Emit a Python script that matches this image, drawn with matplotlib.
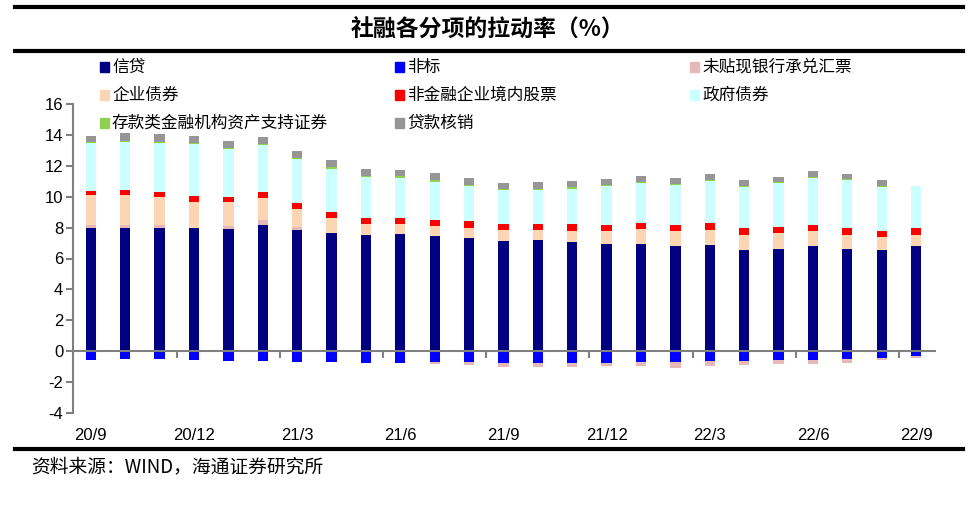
import numpy as np
import matplotlib
matplotlib.use('Agg')
import matplotlib.pyplot as plt
from matplotlib.lines import Line2D
from matplotlib.patches import Rectangle

plt.rcParams['font.family'] = ['Liberation Sans', 'Noto Sans CJK SC', 'DejaVu Sans']
plt.rcParams['axes.unicode_minus'] = False
cjk = ['Noto Sans CJK SC', 'DejaVu Sans']

months = ['20/9', '20/10', '20/11', '20/12', '21/1', '21/2', '21/3', '21/4', '21/5',
          '21/6', '21/7', '21/8', '21/9', '21/10', '21/11', '21/12', '22/1', '22/2',
          '22/3', '22/4', '22/5', '22/6', '22/7', '22/8', '22/9']

credit = [7.99, 7.99, 8.00, 7.95, 7.90, 8.14, 7.84, 7.64, 7.49, 7.58, 7.45, 7.32, 7.14,
          7.19, 7.06, 6.97, 6.97, 6.80, 6.87, 6.52, 6.61, 6.80, 6.61, 6.56, 6.80]
nonstd = [-0.54, -0.50, -0.50, -0.60, -0.65, -0.65, -0.69, -0.73, -0.76, -0.74, -0.72, -0.72, -0.76,
          -0.76, -0.76, -0.76, -0.71, -0.73, -0.65, -0.63, -0.58, -0.56, -0.50, -0.45, -0.32]
bills = [0.17, 0.21, 0.18, 0.03, 0.22, 0.34, 0.21, 0.04, 0.02, -0.05, -0.14, -0.19, -0.24,
         -0.24, -0.24, -0.19, -0.22, -0.35, -0.28, -0.26, -0.28, -0.24, -0.26, -0.11, -0.11]
corp_bond = [1.92, 1.92, 1.81, 1.69, 1.51, 1.45, 1.13, 0.91, 0.72, 0.63, 0.67, 0.67, 0.68,
             0.65, 0.73, 0.80, 0.91, 0.97, 0.99, 1.01, 1.03, 0.95, 0.92, 0.80, 0.73]
equity = [0.30, 0.33, 0.31, 0.35, 0.36, 0.37, 0.38, 0.41, 0.38, 0.38, 0.36, 0.41, 0.39,
          0.39, 0.44, 0.43, 0.45, 0.41, 0.43, 0.44, 0.41, 0.41, 0.42, 0.41, 0.42]
gov_bond = [3.07, 3.11, 3.19, 3.36, 3.09, 3.04, 2.85, 2.81, 2.64, 2.64, 2.49, 2.27, 2.20,
            2.20, 2.28, 2.49, 2.55, 2.57, 2.70, 2.67, 2.81, 3.04, 3.10, 2.85, 2.76]
abs_ = [0.06, 0.06, 0.07, 0.09, 0.07, 0.07, 0.07, 0.09, 0.10, 0.08, 0.11, 0.11, 0.08,
        0.10, 0.09, 0.06, 0.09, 0.09, 0.09, 0.07, 0.06, 0.07, 0.07, 0.07, 0.00]
writeoff = [0.44, 0.48, 0.49, 0.43, 0.45, 0.47, 0.49, 0.47, 0.44, 0.44, 0.45, 0.43, 0.41,
            0.42, 0.43, 0.41, 0.36, 0.39, 0.36, 0.37, 0.37, 0.37, 0.34, 0.36, 0.00]

names = ['信贷', '非标', '未贴现银行承兑汇票', '企业债券', '非金融企业境内股票',
         '政府债券', '存款类金融机构资产支持证券', '贷款核销']
series = [credit, nonstd, bills, corp_bond, equity, gov_bond, abs_, writeoff]
colors = ['#000080', '#0000FF', '#E6B9B8', '#FCD5B5', '#FF0000', '#CCFFFF', '#92D050', '#969696']

fig = plt.figure(figsize=(9.76, 5.14), dpi=100)
ax = fig.add_axes([73 / 976, 1 - 413 / 514, (935 - 73) / 976, (413 - 104) / 514])

x = np.arange(len(months))
pos_base = np.zeros(len(months))
neg_base = np.zeros(len(months))
for vals, c in zip(series, colors):
    v = np.array(vals)
    bottom = np.where(v >= 0, pos_base, neg_base)
    ax.bar(x, v, 0.3, bottom=bottom, color=c, edgecolor='none', zorder=2)
    pos_base += np.where(v >= 0, v, 0)
    neg_base += np.where(v < 0, v, 0)

ax.set_xlim(-0.52, 24.55)
ax.set_ylim(-4, 16)
ax.set_yticks(range(-4, 17, 2))
ax.tick_params(axis='y', labelsize=12, length=5, width=1.5, color='#808080', pad=2)

for s in ['top', 'right']:
    ax.spines[s].set_visible(False)
ax.spines['left'].set_color('#808080')
ax.spines['left'].set_linewidth(1.5)
ax.spines['bottom'].set_position(('data', 0))
ax.spines['bottom'].set_color('#808080')
ax.spines['bottom'].set_linewidth(1.5)

ax.set_xticks(x[::3])
ax.set_xticklabels(months[::3])
ax.set_xticks(np.arange(2.5, 24, 3), minor=True)
ax.tick_params(axis='x', which='major', length=0, labelsize=12, pad=55)
ax.tick_params(axis='x', which='minor', length=5, width=1.5, color='#808080')

# header and footer rules
fig.add_artist(Line2D([15 / 976, 963 / 976], [1 - 7 / 514] * 2, color='black', lw=3))
fig.add_artist(Line2D([15 / 976, 963 / 976], [1 - 51 / 514] * 2, color='black', lw=3))
fig.add_artist(Line2D([15 / 976, 963 / 976], [1 - 449 / 514] * 2, color='black', lw=3))

fig.text(0.5, 1 - 29 / 514, '社融各分项的拉动率（%）', ha='center', va='center',
         fontsize=16.5, fontweight='bold', family=cjk)

# legend, row by row in three columns
col_x = [100, 395, 690]
row_y = [67, 95, 123]
for i, (name, c) in enumerate(zip(names, colors)):
    cx = col_x[i % 3]
    cy = row_y[i // 3]
    fig.add_artist(Rectangle((cx / 976, 1 - (cy + 4.5) / 514), 9 / 976, 9 / 514,
                             transform=fig.transFigure, color=c))
    fig.text((cx + 12) / 976, 1 - cy / 514, name, ha='left', va='center',
             fontsize=12, family=cjk)

fig.text(31 / 976, 1 - 467 / 514, '资料来源：WIND，海通证券研究所', ha='left', va='center',
         fontsize=13.5, family=cjk)

fig.savefig('out.png', dpi=100)
